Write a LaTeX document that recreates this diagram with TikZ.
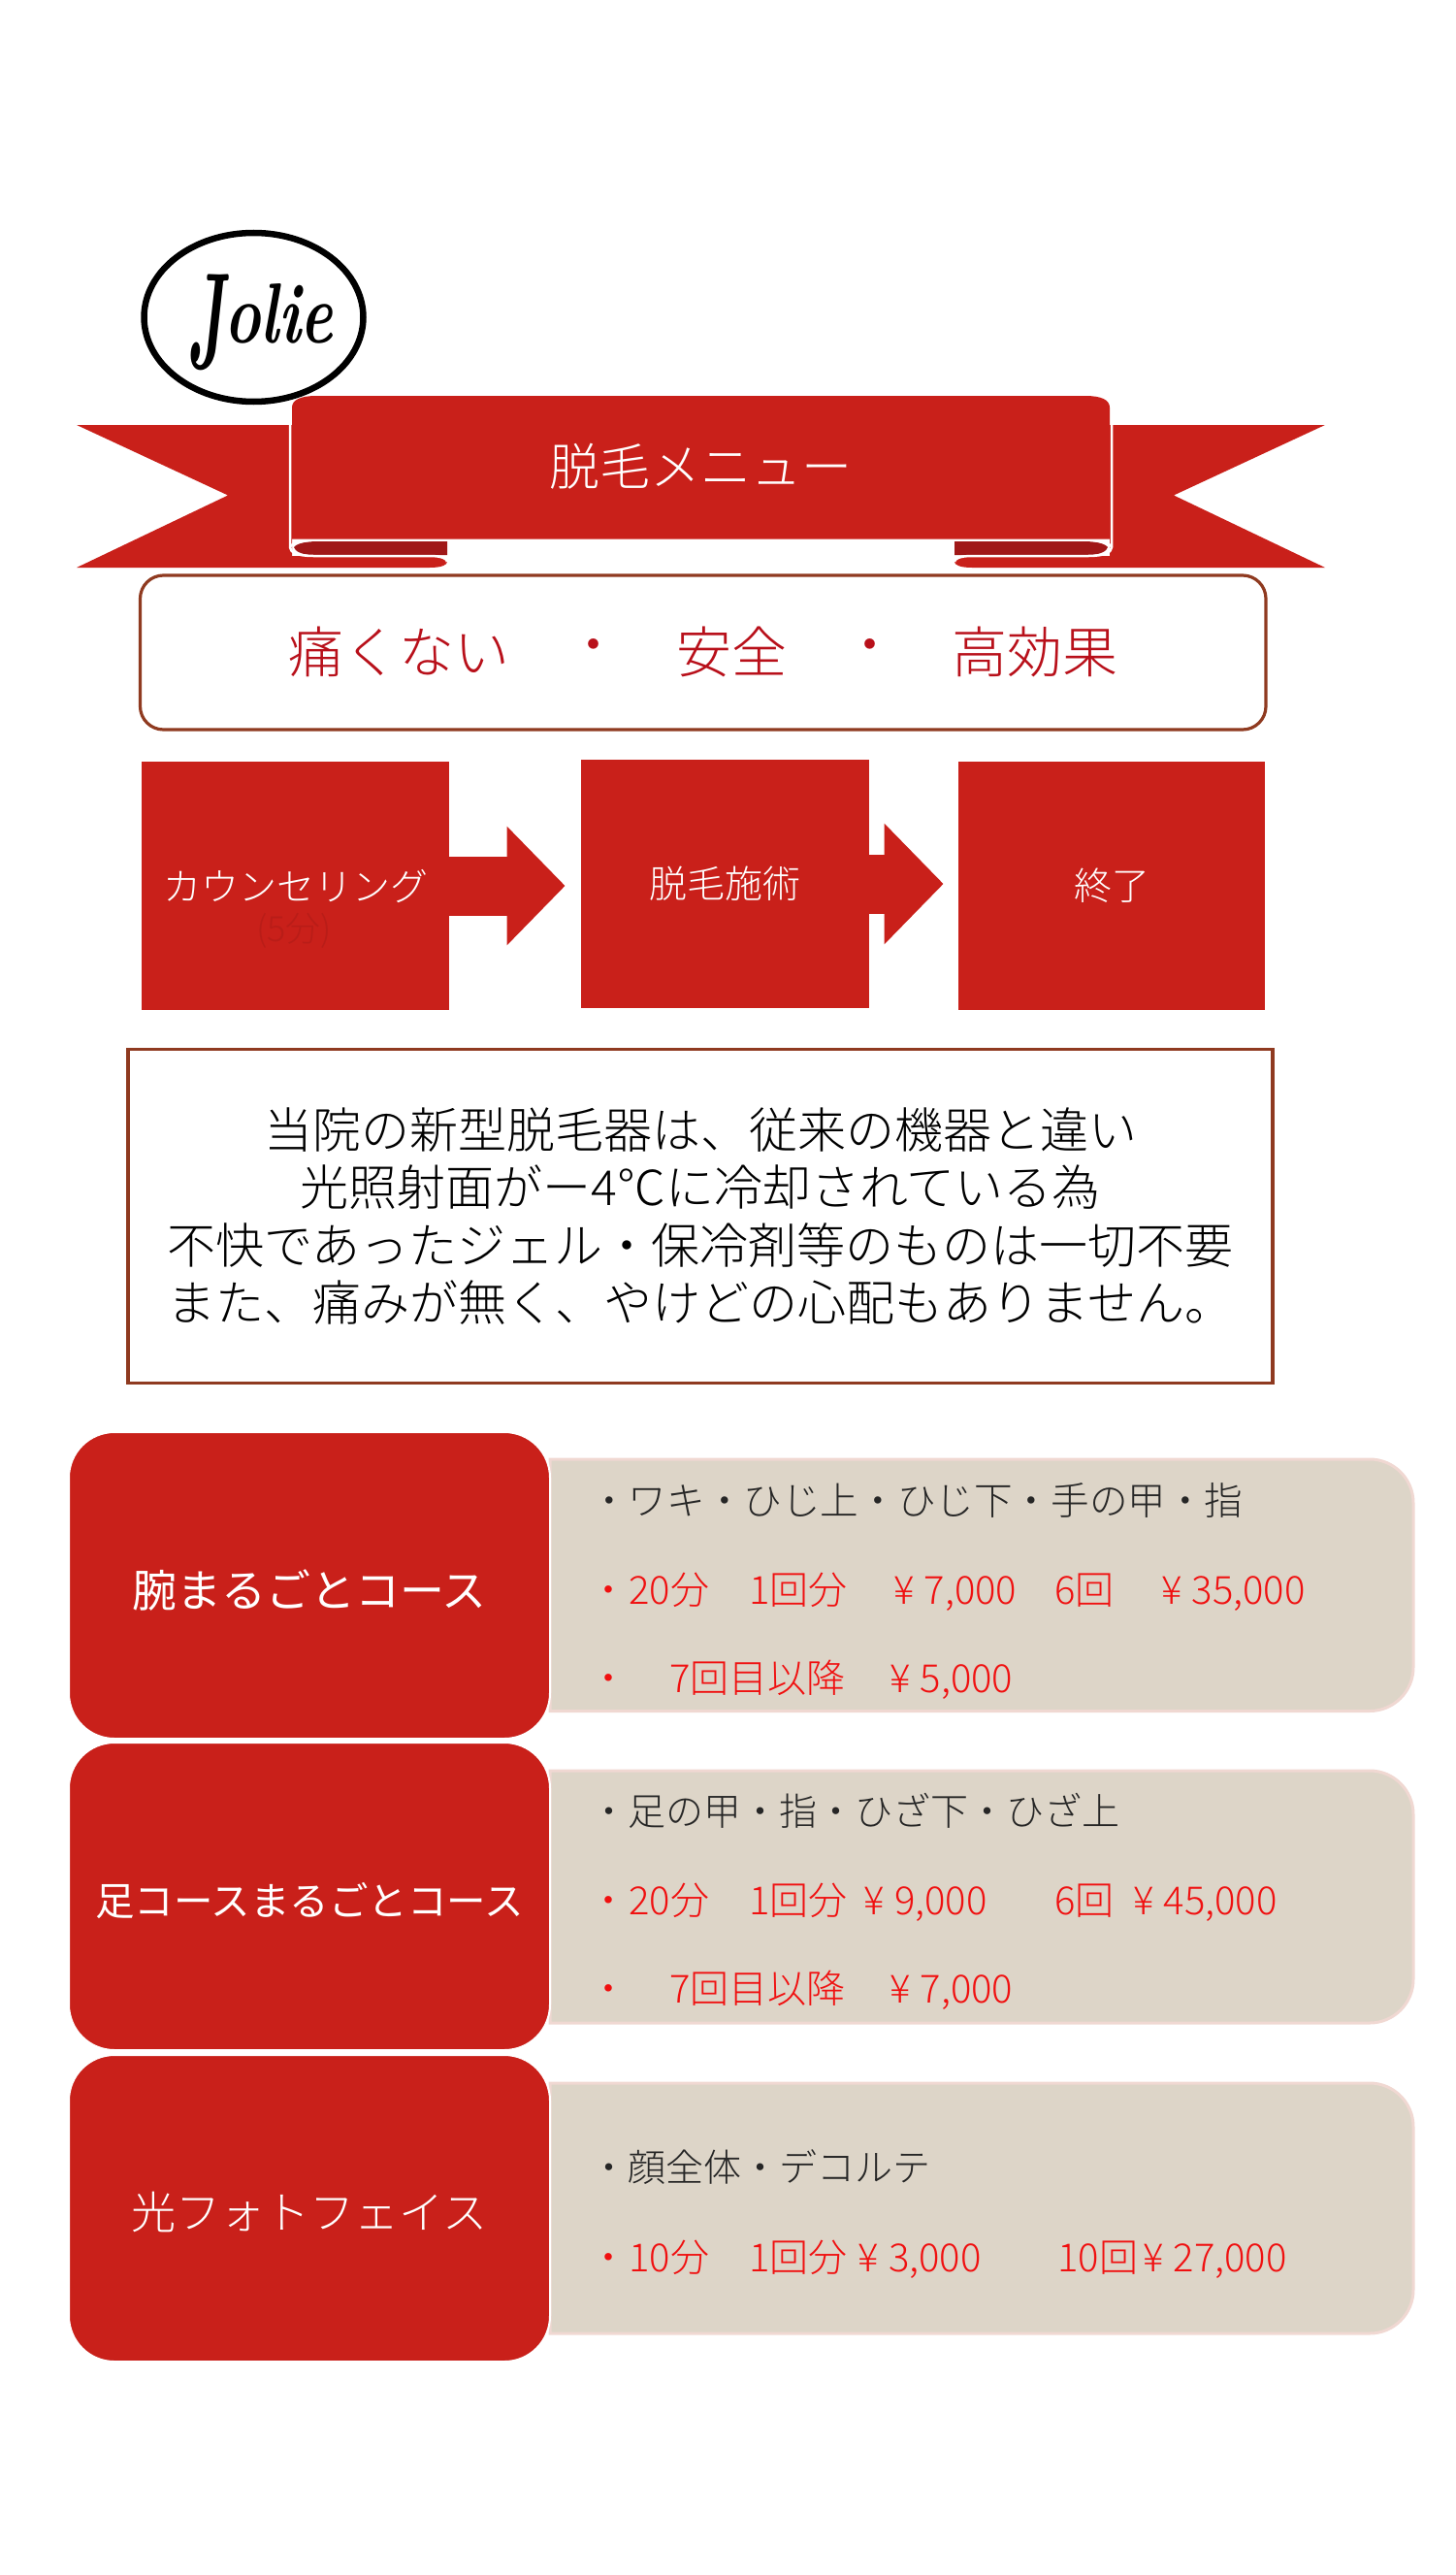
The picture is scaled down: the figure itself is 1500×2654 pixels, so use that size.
\documentclass[tikz,border=0pt]{standalone}
\usepackage{fontspec}
\usetikzlibrary{arrows.meta}
\newfontfamily\jplight{Noto Sans CJK JP Light}
\newfontfamily\jpregular{Noto Sans CJK JP}
\definecolor{ribbonred}{HTML}{C9201A}
\definecolor{ribbondark}{HTML}{A01818}
\definecolor{framebrown}{HTML}{8F3A20}
\definecolor{sloganred}{HTML}{B8101A}
\definecolor{panebeige}{HTML}{DDD5C8}
\definecolor{paneedge}{HTML}{F0D8D2}
\definecolor{feered}{HTML}{F01010}
\newcommand{\yenprice}[1]{¥\kern10pt #1}
\tikzset{
    stepbox/.style={fill=ribbonred,text=white,inner sep=0pt,font=\jplight\fontsize{39}{47}\selectfont},
    stepflow/.style={ribbonred,line width=61pt},
    coursebox/.style={fill=ribbonred,draw=white,line width=2pt,rounded corners=47pt,text=white,inner sep=0pt,minimum width=496pt,text depth=0pt},
    paneline/.style={anchor=west,inner sep=0pt,text height=35pt,text depth=5pt,font=\jplight\fontsize{40}{48}\selectfont},
    partline/.style={paneline,text=black!85,font=\jplight\fontsize{39}{48}\selectfont},
    feeline/.style={paneline,text=feered},
}
\begin{document}
\begin{tikzpicture}[x=1pt,y=-1pt]
                        \useasboundingbox (0,0) rectangle (1500,2654);
                        \draw[line width=6.5pt] (261.5,327) ellipse[x radius=113, y radius=87];
                        \node[inner sep=0pt,font=\itshape\bfseries\fontsize{88}{100}\selectfont] (logo) at (268,332) {\scalebox{.72}[1]{\raisebox{-26pt}{\scalebox{1}[1.6]{J}}olie}};
                        % the two tails of the ribbon, the second one mirrored
                        \foreach \flip/\offset in {1/0,-1/1445} {%
                            \begin{scope}[xshift=\offset pt,xscale=\flip]
                                \fill[ribbonred] (79,438) -- (301,438) -- (301,573) -- (443,573) .. controls (456,573) and (461,576) .. (461,579) .. controls (461,582) and (456,585) .. (443,585) -- (79,585) -- (235,510.5) -- cycle;
                                \fill[ribbondark] (303,564) .. controls (306,560) and (316,558) .. (328,558) -- (461,558) -- (461,572) -- (323,572) .. controls (311,572) and (304,568) .. (303,564) -- cycle;
                                \draw[white,line width=2.5pt] (299,415) -- (299,564) .. controls (299,569) and (306,573) .. (323,573) -- (443,573) .. controls (456,573) and (461,576) .. (461,579);
                                \draw[white,line width=2.5pt] (299,564) .. controls (301,559) and (313,556.5) .. (328,556.5);
                            \end{scope}
                        }
                        \fill[ribbonred] (301,555.5) -- (301,420) .. controls (301,412) and (310,408) .. (326,408) -- (1119,408) .. controls (1135,408) and (1144,412) .. (1144,420) -- (1144,555.5) -- cycle;
                        \node[text=white,inner sep=0pt,font=\jplight\fontsize{52}{60}\selectfont] (title) at (722.5,481) {脱毛メニュー};
                        \draw[framebrown,line width=3.2pt,rounded corners=24pt] (144.5,593) rectangle (1305,752);
                        \foreach \x/\t [count=\i] in {411/痛くない,612/・,754/安全,896.5/・,1067/高効果} {%
                            \node[text=sloganred,inner sep=0pt,font=\jplight\fontsize{57}{66}\selectfont] (slogan\i) at (\x,672) {\t};
                        }
                        \node[stepbox,minimum width=317pt,minimum height=255.5pt] (consult) at (304.5,913) {カウンセリング};
                        \node[stepbox,minimum width=297.5pt,minimum height=255.5pt] (treat) at (747.3,911) {脱毛施術};
                        \node[stepbox,minimum width=315.5pt,minimum height=255.5pt] (finish) at (1146,913) {終了};
                        \node[inner sep=0pt,text=ribbonred!92!black,font=\jplight\fontsize{36}{44}\selectfont] (minutes) at (303,959) {(5分)};
                        \coordinate (tipone) at (582.6,913);
                        \coordinate (tiptwo) at (972.6,911);
                        \draw[stepflow,-{Triangle[length=60pt,width=119pt]}] (consult.east) -- (tipone);
                        \draw[stepflow,-{Triangle[length=61pt,width=121pt]}] (treat.east) -- (tiptwo);
                        \node[draw=framebrown,line width=3.2pt,minimum width=1180pt,minimum height=344pt,inner sep=0pt,align=center,font=\jplight\fontsize{50}{59.4}\selectfont] (notice) at (722,1253.6) {当院の新型脱毛器は、従来の機器と違い\\光照射面がー4℃に冷却されている為\\不快であったジェル・保冷剤等のものは一切不要\\また、痛みが無く、やけどの心配もありません。};
                        % beige panes, square on the left
                        \foreach \ytop/\ybot in {1504/1763.5,1825/2085,2147/2405} {%
                            \draw[fill=panebeige,draw=paneedge,line width=3pt] (567,\ytop) [rounded corners=45pt] -- (1457,\ytop) -- (1457,\ybot) [sharp corners] -- (567,\ybot) -- cycle;
                        }
                        \node[coursebox,text height=44pt,minimum height=316pt,font=\jpregular\fontsize{46}{54}\selectfont] (arm) at (319,1634) {腕まるごとコース};
                        \node[coursebox,text height=40pt,minimum height=317pt,font=\jpregular\fontsize{40.5}{48}\selectfont] (leg) at (319,1954.5) {足コースまるごとコース};
                        \node[coursebox,text height=42pt,minimum height=316pt,font=\jplight\fontsize{46}{54}\selectfont] (face) at (319,2276) {光フォトフェイス};
                        % arm course
                        \node[partline,font=\jplight\fontsize{39.6}{48}\selectfont] (armparts) at (608,1546) {・ワキ・ひじ上・ひじ下・手の甲・指};
                        \foreach \x/\t [count=\i] in {607/・,648/20分,772/1回分,921/{\yenprice{7,000}},1087/6回,1197/{\yenprice{35,000}}} {%
                            \node[feeline] (armfee\i) at (\x,1638) {\t};
                        }
                        \foreach \x/\t [count=\i] in {607/・,690/7回目以降,917/{\yenprice{5,000}}} {%
                            \node[feeline] (armmore\i) at (\x,1729) {\t};
                        }
                        % leg course
                        \node[partline] (legparts) at (608,1866) {・足の甲・指・ひざ下・ひざ上};
                        \foreach \x/\t [count=\i] in {607/・,648/20分,772/1回分,890.5/{\yenprice{9,000}},1087/6回,1168/{\yenprice{45,000}}} {%
                            \node[feeline] (legfee\i) at (\x,1958.5) {\t};
                        }
                        \foreach \x/\t [count=\i] in {607/・,690/7回目以降,917/{\yenprice{7,000}}} {%
                            \node[feeline] (legmore\i) at (\x,2049) {\t};
                        }
                        % face course
                        \node[partline] (faceparts) at (608,2233) {・顔全体・デコルテ};
                        \foreach \x/\t [count=\i] in {607/・,648/10分,772/1回分,884.5/{\yenprice{3,000}},1090/10回,1178/{\yenprice{27,000}}} {%
                            \node[feeline] (facefee\i) at (\x,2326) {\t};
                        }
                    \end{tikzpicture}
\end{document}
